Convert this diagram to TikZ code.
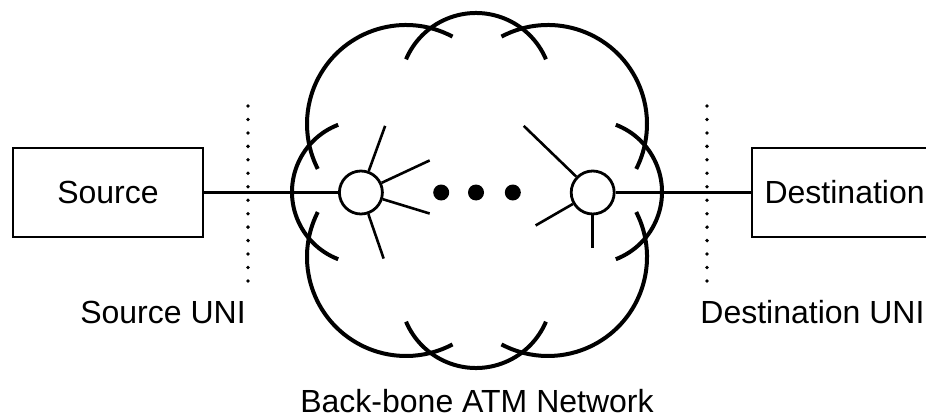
\documentclass[tikz,border=0pt]{standalone}
\usepackage{fontspec}
\setmainfont{Liberation Sans}
\usetikzlibrary{positioning}
\tikzset{%
  box/.style={draw,line width=1pt,minimum width=95pt,minimum height=44.5pt,inner sep=0pt},
  switch/.style={draw,circle,line width=1.4pt,minimum size=21.5pt,inner sep=0pt},
  link/.style={line width=1.4pt}%
}

\begin{document}
\begin{tikzpicture}[
    x=0.5pt, y=0.5pt,
    font=\fontsize{16}{19}\selectfont,
    dot/.style={
        circle,
        fill,
        minimum size=8pt,
        inner sep=0pt
    },
    spoke/.style={line width=1.3pt},
    lobe/.style={line width=2pt},
    uni/.style={
        line width=1.9pt,
        line cap=round,
        dash pattern=on 0pt off 6.73pt
    }
]
\useasboundingbox (0,0) rectangle (926,-417);

% End systems and switches
\node[box] (src) at (108,-192.5) {Source};
\node[switch, right=67pt of src] (sw1) {};
\node[switch, right=93pt of sw1] (sw2) {};
\node[box, minimum width=93pt, right=67.5pt of sw2] (dst) {Destination};

% Dots between the switches
\node[dot, right=24.5pt of sw1] (dot1) {};
\node[dot, right=9pt of dot1] (dot2) {};
\node[dot, right=10pt of dot2] (dot3) {};

% Links
\draw[link] (src) -- (sw1);
\draw[link] (sw2) -- (dst);

% Spokes of the switches
\draw[spoke] (sw1.70) -- ++(70:48);
\draw[spoke] (sw1.25) -- ++(25:53);
\draw[spoke] (sw1.-17) -- ++(-17:49);
\draw[spoke] (sw1.-71) -- ++(-71:47);
\draw[spoke] (sw2.136) -- ++(136:73);
\draw[spoke] (sw2.210) -- ++(210:43);
\draw[spoke] (sw2.270) -- ++(270:33);

% Cloud of the back-bone network
\draw[lobe] (406,-124) ++(62:99) arc[start angle=62, end angle=207, radius=99];
\draw[lobe] (548,-124) ++(118:99) arc[start angle=118, end angle=-27, radius=99];
\draw[lobe] (406,-257) ++(153:99) arc[start angle=153, end angle=298, radius=99];
\draw[lobe] (548,-257) ++(27:99) arc[start angle=27, end angle=-118, radius=99];
\draw[lobe] (476,-89) ++(23:76) arc[start angle=23, end angle=157, radius=76];
\draw[lobe] (476,-292) ++(203:76) arc[start angle=203, end angle=337, radius=76];
\draw[lobe] (364,-192) ++(111:72) arc[start angle=111, end angle=249, radius=72];
\draw[lobe] (590,-192) ++(69:72) arc[start angle=69, end angle=-69, radius=72];

% UNI boundaries
\draw[uni] (248,-106) -- (248,-281);
\draw[uni] (707,-106) -- (707,-281);

% Labels
\node[anchor=base] (srcuni) at (163,-323) {Source UNI};
\node[anchor=base west, inner sep=0pt] (dstuni) at (700,-323) {Destination UNI};
\node[anchor=base] (backbone) at (477,-412) {Back-bone ATM Network};

\end{tikzpicture}
\end{document}
